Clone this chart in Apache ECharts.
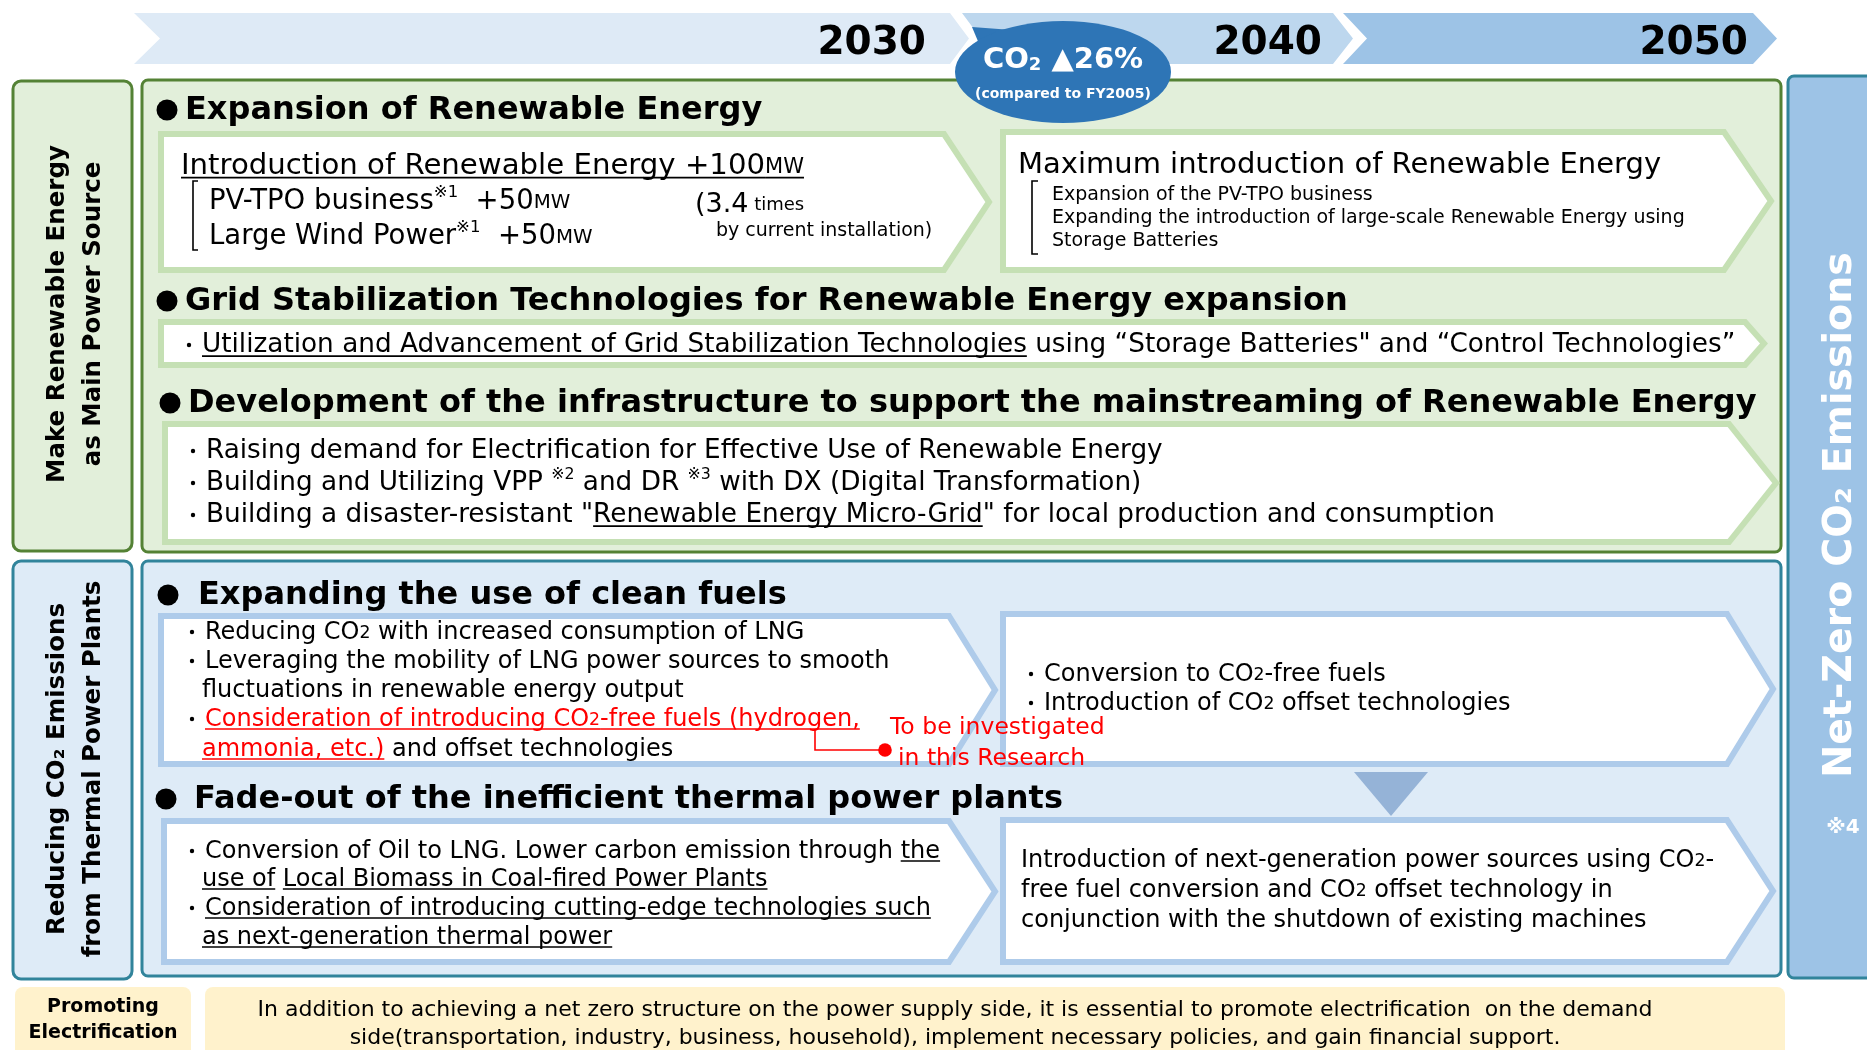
<!DOCTYPE html>
<html><head><meta charset="utf-8">
<script src="https://cdn.jsdelivr.net/npm/echarts@6/dist/echarts.min.js"></script>
<style>html,body{margin:0;padding:0;background:#fff}#c{width:1867px;height:1050px}</style>
</head><body><div id="c"></div><script>
// ---------------- data ----------------
const years = ['2030', '2040', '2050'];
const badgeMain = [['CO'], ['2', 'd'], [' ▲26%']];
const badgeSub = '(compared to FY2005)';
const sideLabels = ['Make Renewable Energy\nas Main Power Source', 'Reducing CO₂ Emissions\nfrom Thermal Power Plants'];
const netZeroLabel = 'Net-Zero CO₂ Emissions';
const netZeroNote = '※4';
const headers = [
  'Expansion of Renewable Energy',
  'Grid Stabilization Technologies for Renewable Energy expansion',
  'Development of the infrastructure to support the mainstreaming of Renewable Energy',
  'Expanding the use of clean fuels',
  'Fade-out of the inefficient thermal power plants'
];
const reTitle2030 = [['Introduction of Renewable Energy +100', 'u'], ['MW', 'us']];
const reItems2030 = [
  [['PV-TPO business'], ['※1', 'p'], ['  +50'], ['MW', 's']],
  [['Large Wind Power'], ['※1', 'p'], ['  +50'], ['MW', 's']]
];
const reNote2030 = [[['(3.4']], [[' times']], [['by current installation)']]];
const reTitle2050 = [['Maximum introduction of Renewable Energy']];
const reItems2050 = ['Expansion of the PV-TPO business', 'Expanding the introduction of large-scale Renewable Energy using', 'Storage Batteries'];
const gridItems = [[['・'], ['Utilization and Advancement of Grid Stabilization Technologies', 'u'], [' using “Storage Batteries" and “Control Technologies”']]];
const infraItems = [
  [['・Raising demand for Electrification for Effective Use of Renewable Energy']],
  [['・Building and Utilizing VPP '], ['※2', 'p'], [' and DR '], ['※3', 'p'], [' with DX (Digital Transformation)']],
  [['・Building a disaster-resistant "'], ['Renewable Energy Micro-Grid', 'u'], ['" for local production and consumption']]
];
const fuel2030 = [
  [['・Reducing CO'], ['2', 's'], [' with increased consumption of LNG']],
  [['・Leveraging the mobility of LNG power sources to smooth']],
  [['fluctuations in renewable energy output']],
  [['・'], ['Consideration of introducing CO', 'ru'], ['2', 'rus'], ['-free fuels (hydrogen,', 'ru']],
  [['ammonia, etc.)', 'ru'], [' and offset technologies']]
];
const fuel2050 = [
  [['・Conversion to CO'], ['2', 's'], ['-free fuels']],
  [['・Introduction of CO'], ['2', 's'], [' offset technologies']]
];
const thermal2030 = [
  [['・Conversion of Oil to LNG. Lower carbon emission through '], ['the', 'u']],
  [['use of', 'u'], [' '], ['Local Biomass in Coal-fired Power Plants', 'u']],
  [['・'], ['Consideration of introducing cutting-edge technologies such', 'u']],
  [['as next-generation thermal power', 'u']]
];
const thermal2050 = [
  [['Introduction of next-generation power sources using CO'], ['2', 's'], ['-']],
  [['free fuel conversion and CO'], ['2', 's'], [' offset technology in']],
  [['conjunction with the shutdown of existing machines']]
];
const researchNote = ['To be investigated', 'in this Research'];
const electrifyLabel = 'Promoting\nElectrification';
const electrifyText = [
  'In addition to achieving a net zero structure on the power supply side, it is essential to promote electrification  on the demand',
  'side(transportation, industry, business, household), implement necessary policies, and gain financial support.'
];

// ---------------- helpers ----------------
const FF = '"DejaVu Sans", Verdana, sans-serif';
const RED = '#ff0000';
const cv = document.createElement('canvas').getContext('2d');
function fstr(sz, b) { return (b ? 'bold ' : '') + sz + 'px ' + FF; }
function tw(t, sz, b) { cv.font = fstr(sz, b); return cv.measureText(t).width; }
const G = [];
function T(x, y, text, sz, o) {
  o = o || {};
  G.push({
    type: 'text', x: x, y: o.rot ? y : y + 0.1 * sz, rotation: o.rot || 0, z: o.z || 10,
    style: {
      text: text, font: fstr(sz, o.b), fill: o.c || '#000',
      textAlign: o.al || 'left', align: o.al || 'left',
      textVerticalAlign: 'middle', verticalAlign: 'middle',
      lineHeight: o.lh || sz * 1.2
    }
  });
}
function L(x1, y1, x2, y2, c, w, z) { G.push({ type: 'line', z: z || 11, shape: { x1, y1, x2, y2 }, style: { stroke: c, lineWidth: w } }); }
function PL(pts, c, w, z) { G.push({ type: 'polyline', z: z || 11, shape: { points: pts }, style: { stroke: c, lineWidth: w, fill: null } }); }
function PG(pts, fill, stroke, lw, z) { G.push({ type: 'polygon', z: z || 2, shape: { points: pts }, style: { fill, stroke: stroke || null, lineWidth: lw || 0, lineJoin: 'miter' } }); }
function RC(x, y, w, h, r, fill, stroke, lw, z) { G.push({ type: 'rect', z: z || 1, shape: { x, y, width: w, height: h, r }, style: { fill, stroke: stroke || null, lineWidth: lw || 0 } }); }
function CI(cx, cy, r, fill, z, sy) { G.push({ type: 'circle', z: z || 10, x: cx, y: cy, scaleY: sy || 1, shape: { cx: 0, cy: 0, r }, style: { fill } }); }
function chev(x1, y1, x2, y2, tip, notch, fill, stroke, lw, z) {
  const m = (y1 + y2) / 2;
  PG([[x1, y1], [x2 - tip, y1], [x2, m], [x2 - tip, y2], [x1, y2], [x1 + notch, m]], fill, stroke, lw, z);
}
// rich line: y = vertical middle of main text
function RL(x, y, segs, S, o) {
  o = o || {};
  let cx = x;
  segs.forEach(function (sg, i) {
    let t = sg[0]; const f = sg[1] || '';
    if (i === 0 && t.charAt(0) === '・') { CI(x - 13, y + 2, 2.2, o.c || '#000', 10); t = t.slice(1); if (!t) return; }
    let sz = S, dy = 0;
    if (f.includes('s')) { sz = S * 0.72; dy = 0.26 * (S - sz); }
    if (f.includes('p')) { sz = S * 0.6; dy = -0.3 * S; }
    if (f.includes('d')) { sz = S * 0.62; dy = 0.26 * (S - sz) + 0.1 * S; }
    const b = f.includes('b') || o.b;
    const col = f.includes('r') ? RED : (o.c || '#000');
    T(cx, y + dy, t, sz, { b: b, c: col, z: o.z });
    const w = tw(t, sz, b);
    if (f.includes('u')) L(cx, y + 0.5 * S, cx + w, y + 0.5 * S, col, 1.6);
    cx += w;
  });
  return cx;
}
function segW(segs, S, b) {
  let w = 0;
  segs.forEach(function (sg) { const f = sg[1] || ''; let sz = S; if (f.includes('s')) sz = S * .72; if (f.includes('p')) sz = S * .6; if (f.includes('d')) sz = S * .62; w += tw(sg[0], sz, b); });
  return w;
}

// ---------------- layout ----------------
// timeline bands
PG([[134, 13], [950, 13], [969, 38.5], [950, 64], [134, 64], [160, 38.5]], '#deeaf6', null, 0, 1);
PG([[962, 13], [1333, 13], [1353, 38.5], [1333, 64], [962, 64], [981, 38.5]], '#bdd7ee', null, 0, 1);
PG([[1343, 13], [1753, 13], [1777, 38.5], [1753, 64], [1343, 64], [1367, 38.5]], '#9dc3e6', null, 0, 1);
const yearRight = [926, 1322, 1748];
years.forEach(function (y, i) { T(yearRight[i], 40, y, 39, { b: true, al: 'right', z: 5 }); });

// left labels
RC(13, 81, 119, 470, 8, '#e2efda', '#548235', 3, 1);
RC(13, 561, 119, 418, 8, '#deebf7', '#31849b', 3, 1);
T(76, 314, sideLabels[0], 24.5, { b: true, al: 'center', rot: Math.PI / 2, lh: 36 });
T(76, 769, sideLabels[1], 24.5, { b: true, al: 'center', rot: Math.PI / 2, lh: 36 });

// main panels
RC(142, 80, 1639, 472, 6, '#e2efda', '#548235', 3, 1);
RC(142, 561, 1639, 415, 6, '#deebf7', '#31849b', 3, 1);
RC(1788, 76, 95, 902, 6, '#9dc3e6', '#31849b', 3, 1);
T(1841, 515, netZeroLabel, 39.5, { b: true, c: '#fff', al: 'center', rot: Math.PI / 2 });
T(1843, 826, netZeroNote, 20, { b: true, c: '#fff', al: 'center' });

// CO2 badge
PG([[972, 27], [1012, 30], [985, 58]], '#2e75b6', null, 0, 6);
CI(1063, 72, 108, '#2e75b6', 6, 51 / 108);
(function () {
  const w = segW(badgeMain, 29, true);
  RL(1063 - w / 2, 58, badgeMain, 29, { b: true, c: '#fff', z: 7 });
  T(1063, 93, badgeSub, 14, { b: true, c: '#fff', al: 'center', z: 7 });
})();

// headers
const hdrPos = [[167, 185, 107], [167, 185, 298], [170, 188, 400], [168, 198, 592], [166, 194, 796]];
headers.forEach(function (h, i) {
  const p = hdrPos[i];
  CI(p[0], p[2] + 3, 10.5, '#000', 10);
  T(p[1], p[2], h, 32, { b: true });
});

const GB = '#c5e0b4', BB = '#aecbea';
// green boxes
chev(161, 134, 989, 270, 45, 0, '#fff', GB, 6, 2);
chev(1003, 132, 1771, 270, 47, 0, '#fff', GB, 6, 2);
chev(161, 322, 1764, 365, 19, 0, '#fff', GB, 6, 2);
chev(165, 424, 1776, 542, 47, 0, '#fff', GB, 6, 2);
// blue boxes
chev(161, 616, 995, 764, 46, 0, '#fff', BB, 6, 2);
chev(1003, 614, 1773, 764, 46, 0, '#fff', BB, 6, 2);
chev(164, 821, 995, 962, 46, 0, '#fff', BB, 6, 2);
chev(1003, 820, 1773, 962, 46, 0, '#fff', BB, 6, 2);
// down arrow
PG([[1354, 772], [1428, 772], [1391, 816]], '#95b3d7', null, 0, 3);

// box 1 (2030 renewables)
RL(181, 163, reTitle2030, 29.2);
PL([[198, 181], [193, 181], [193, 250], [198, 250]], '#000', 1.6);
RL(209, 199, reItems2030[0], 27.5);
RL(209, 234, reItems2030[1], 27.5);
(function () {
  const x1 = RL(695, 202, reNote2030[0], 27);
  RL(x1, 204, reNote2030[1], 18);
  RL(716, 229, reNote2030[2], 19);
})();
// box 2 (2050 renewables)
RL(1018, 163, reTitle2050, 29);
PL([[1038, 181], [1032, 181], [1032, 254], [1038, 254]], '#000', 1.6);
reItems2050.forEach(function (t, i) { T(1052, 193 + i * 23, t, 19); });
// grid box
RL(202, 343, gridItems[0], 26.3);
// infrastructure box
infraItems.forEach(function (s, i) { RL(206, 449 + i * 32, s, 26.3); });
// clean fuels
const fuelY = [630, 659, 688, 717, 747];
fuel2030.forEach(function (s, i) { RL(i === 2 || i === 4 ? 202 : 205, fuelY[i], s, 24); });
PL([[815, 729], [815, 750], [885, 750]], RED, 1.6);
CI(885, 750, 6.8, RED, 12);
T(890, 726, researchNote[0], 23.5, { c: RED, z: 12 });
T(898, 757, researchNote[1], 23.5, { c: RED, z: 12 });
fuel2050.forEach(function (s, i) { RL(1044, 672 + i * 29, s, 24); });
// thermal
const thY = [849, 877, 906, 935];
thermal2030.forEach(function (s, i) { RL(i % 2 ? 202 : 205, thY[i], s, 24); });
thermal2050.forEach(function (s, i) { RL(1021, 858 + i * 30, s, 24); });

// bottom
RC(15, 987, 176, 90, 8, '#fff2cc', null, 0, 1);
RC(205, 987, 1580, 90, 8, '#fff2cc', null, 0, 1);
T(103, 1018, electrifyLabel, 19, { b: true, al: 'center', lh: 26 });
electrifyText.forEach(function (t, i) { T(955, 1008 + i * 28, t, 22, { al: 'center' }); });

const chart = echarts.init(document.getElementById('c'));
chart.setOption({ animation: false, graphic: { elements: G } });
</script></body></html>
